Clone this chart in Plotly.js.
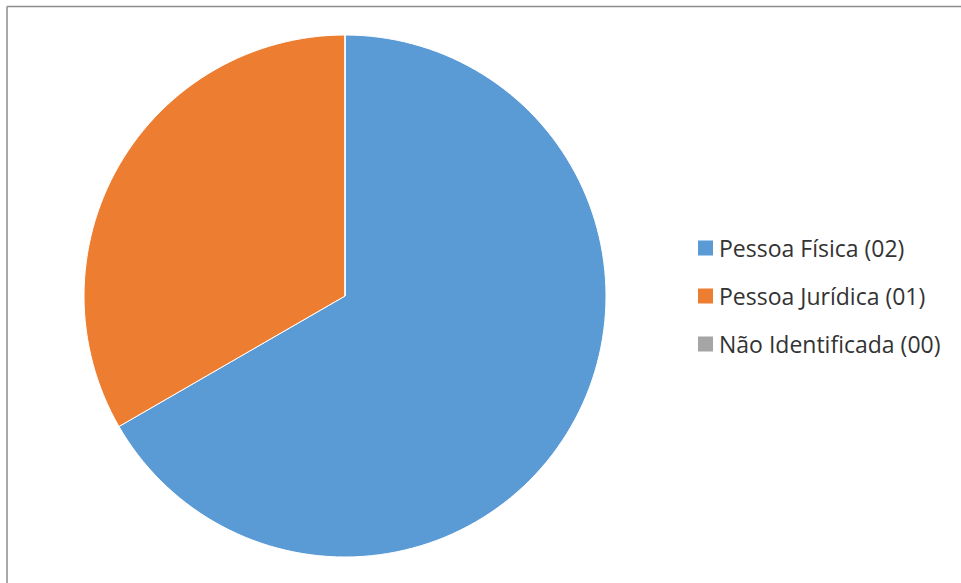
<!DOCTYPE html>
<html>
<head>
<meta charset="utf-8">
<script src="https://cdn.plot.ly/plotly-3.0.1.min.js"></script>
<style>html,body{margin:0;padding:0;background:#fff;} #chart{width:961px;height:583px;}</style>
</head>
<body>
<div id="chart"></div>
<script>
const labels = ["Pessoa Física (02)", "Pessoa Jurídica (01)", "Não Identificada (00)"];
const values = [2, 1, 0];
const colors = ["#5B9BD5", "#ED7D31", "#A5A5A5"];

const W = 961, H = 583;
const trace = {
  type: "pie",
  labels: labels,
  values: values,
  sort: false,
  direction: "clockwise",
  rotation: 0,
  textinfo: "none",
  hoverinfo: "label+value",
  marker: {colors: colors, line: {color: "#ffffff", width: 1}},
  domain: {x: [84/W, 606/W], y: [1-557/H, 1-35/H]},
  showlegend: false
};

// Legend drawn as library shapes + annotations, built from the arrays
const legTop = 248, legGap = 48;
const shapes = [
  {type: "line", xref: "paper", yref: "paper", x0: 7/W, x1: 1, y0: 1-6.5/H, y1: 1-6.5/H, line: {color: "#8c8c8c", width: 1.5}},
  {type: "line", xref: "paper", yref: "paper", x0: 7/W, x1: 7/W, y0: 0, y1: 1-6.5/H, line: {color: "#8c8c8c", width: 1.5}}
];
const annotations = [];
labels.forEach((lab, i) => {
  const cy = legTop + i * legGap;
  shapes.push({type: "rect", xref: "paper", yref: "paper",
    x0: 698/W, x1: 713/W, y0: 1-(cy+7.5)/H, y1: 1-(cy-7.5)/H,
    fillcolor: colors[i], line: {width: 0}});
  annotations.push({xref: "paper", yref: "paper", x: 717/W, y: 1-cy/H,
    xanchor: "left", yanchor: "middle", showarrow: false, text: lab,
    font: {family: "Open Sans, sans-serif", size: 23, color: "#333333"}});
});

const layout = {
  width: W, height: H,
  margin: {l: 0, r: 0, t: 0, b: 0},
  paper_bgcolor: "#ffffff",
  showlegend: false,
  shapes: shapes,
  annotations: annotations
};
Plotly.newPlot("chart", [trace], layout, {displayModeBar: false, staticPlot: true});
</script>
</body>
</html>
